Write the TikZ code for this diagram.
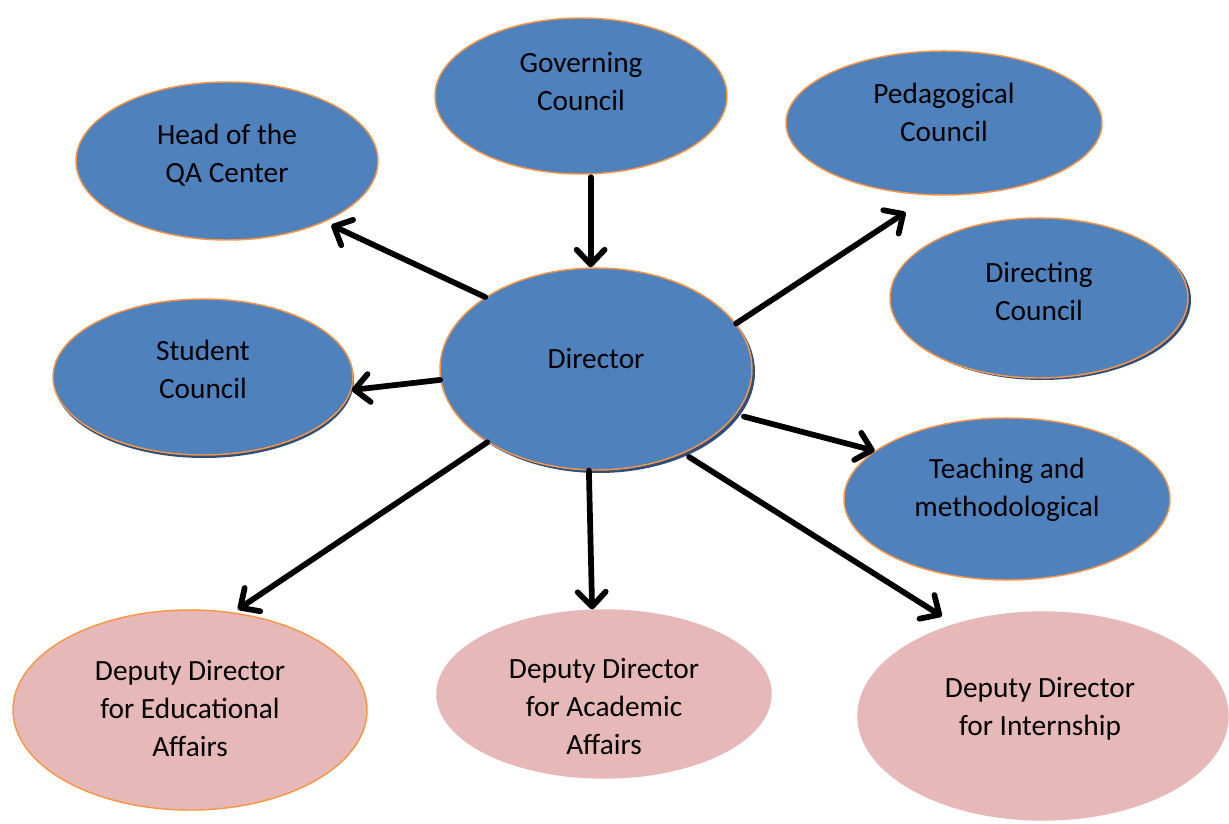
\documentclass[tikz,border=0pt]{standalone}
\usepackage{fontspec}
\setmainfont{Carlito}
\usetikzlibrary{arrows.meta,shapes.geometric,calc}
\definecolor{nodeblue}{HTML}{4F81BD}
\definecolor{nodepink}{HTML}{E6B9B8}
\definecolor{edgeorange}{HTML}{F79646}
\definecolor{shadowblue}{HTML}{2F4F7A}
\tikzset{
  ell/.style={ellipse, inner sep=0pt, line width=1.1pt},
  blueell/.style={ell, fill=nodeblue, draw=edgeorange},
  pinkell/.style={ell, fill=nodepink, draw=nodepink},
  pinkorange/.style={ell, fill=nodepink, draw=edgeorange},
  shadowell/.style={ellipse, inner sep=0pt, fill=shadowblue},
  txt/.style={align=center, font=\fontsize{22}{28.5}\selectfont, text=black, inner sep=0pt},
  arr/.style={line width=4.3pt, -{Straight Barb[length=11pt,width=21pt,round]}, line cap=round},
}
\begin{document}
\begin{tikzpicture}[x=0.75pt,y=-0.75pt]
\useasboundingbox (0,0) rectangle (1229,824);
\fill[white] (0,0) rectangle (1229,824);

% shadows
\node[shadowell, minimum width=234pt, minimum height=151.5pt] at (599,372) {};
\node[shadowell, minimum width=223.5pt, minimum height=120pt] at (1042,300) {};
\node[shadowell, minimum width=225pt, minimum height=117pt] at (204,380) {};

% ellipses
\node[blueell, minimum width=219pt, minimum height=117pt] (gov) at (581,96) {};
\node[blueell, minimum width=226.5pt, minimum height=118.5pt] (qa) at (227,161) {};
\node[blueell, minimum width=237pt, minimum height=108pt] (ped) at (944,123) {};
\node[blueell, minimum width=223.5pt, minimum height=120pt] (dirc) at (1039,298) {};
\node[blueell, minimum width=225pt, minimum height=117pt] (stu) at (203,377) {};
\node[blueell, minimum width=234pt, minimum height=151.5pt] (dir) at (596,369) {};
\node[blueell, minimum width=244.5pt, minimum height=121.5pt] (teach) at (1007,499) {};
\node[pinkorange, minimum width=265.5pt, minimum height=150pt] (edu) at (190,710) {};
\node[pinkell, minimum width=250.5pt, minimum height=126pt] (acad) at (604,694) {};
\node[pinkell, minimum width=277.5pt, minimum height=156pt] (intern) at (1043,716) {};

% texts
\node[txt] (govt) at (581,82) {Governing\\Council};
\node[txt] (qat) at (227,155) {Head of the\\QA Center};
\node[txt] (pedt) at (944,112) {Pedagogical\\Council};
\node[txt] (dirct) at (1039,291) {Directing\\Council};
\node[txt] (stut) at (203,369) {Student\\Council};
\node[txt] (dirt) at (596,359) {Director};
\node[txt] (teacht) at (1007,490) {Teaching and\\methodological};
\node[txt] (edut) at (190,709) {Deputy Director\\for Educational\\Affairs};
\node[txt] (acadt) at (604,707) {Deputy Director\\for Academic\\Affairs};
\node[txt] (interntxt) at (1040,709) {Deputy Director\\for Internship};

% connectors
\draw[arr, shorten <=2pt] (gov.-83) -- (gov.-83 |- dir.north);
\draw[arr, shorten >=5.5pt] (dir.147.3) -- (qa.-32.3);
\draw[arr, shorten >=23pt] (dir.18.1) -- (ped.-100.3);
\draw[arr] (dir.184.8) -- (stu.-5.1);
\draw[arr, shorten <=6pt] (dir.-18.8) -- (teach.160.4);
\draw[arr, shorten >=4pt] (dir.-146.9) -- (edu.66.3);
\draw[arr] (dir.-94.5) -- (acad.98);
\draw[arr, shorten <=5pt, shorten >=11pt] (dir.-44.4) -- (intern.134.8);
\end{tikzpicture}
\end{document}
